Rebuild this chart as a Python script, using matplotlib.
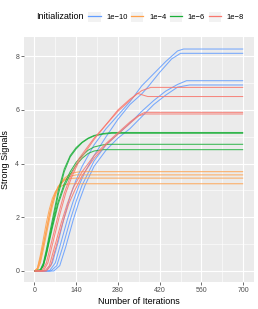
"""Strong signals vs. iterations for four initialization scales."""
import matplotlib

matplotlib.use("Agg")
import matplotlib.pyplot as plt
from matplotlib.legend_handler import HandlerTuple
from matplotlib.lines import Line2D
from matplotlib.patches import Patch

plt.rcParams["font.family"] = ["Liberation Sans", "DejaVu Sans"]

inits = ["1e\u221210", "1e\u22124", "1e\u22126", "1e\u22128"]
colors = ["#619CFF", "#FFA04A", "#1AAF38", "#F8766D"]

# 1e-10 runs
blue_iters = [
    [0, 40, 60, 80, 100, 120, 140, 160, 200, 240, 280, 320, 360, 400, 440, 480, 500, 700],
    [0, 50, 70, 90, 110, 130, 150, 170, 200, 240, 280, 320, 360, 380, 420, 460, 490, 700],
    [0, 55, 75, 95, 120, 140, 160, 200, 240, 280, 320, 360, 400, 440, 480, 510, 700],
    [0, 65, 85, 105, 130, 150, 170, 200, 240, 280, 320, 360, 400, 440, 480, 520, 700],
]
blue_signals = [
    [0, 0, 0.3, 1.1, 2.0, 2.8, 3.4, 3.9, 4.7, 5.3, 5.8, 6.3, 6.9, 7.35, 7.8, 8.2, 8.27, 8.27],
    [0, 0, 0.3, 1.1, 1.9, 2.6, 3.2, 3.7, 4.3, 5.0, 5.65, 6.2, 6.6, 6.85, 7.4, 7.9, 8.11, 8.11],
    [0, 0, 0.2, 0.9, 1.9, 2.6, 3.2, 4.1, 4.7, 5.1, 5.5, 5.95, 6.35, 6.7, 6.95, 7.09, 7.09],
    [0, 0, 0.2, 0.9, 1.9, 2.6, 3.2, 3.9, 4.5, 4.95, 5.3, 5.75, 6.2, 6.55, 6.85, 6.93, 6.93],
]

# 1e-4 runs
orange_iters = [
    [0, 10, 20, 30, 40, 50, 60, 70, 80, 100, 120, 140, 160, 700],
    [0, 10, 20, 30, 40, 50, 60, 70, 80, 100, 120, 140, 700],
    [0, 10, 20, 30, 40, 50, 60, 70, 80, 100, 120, 140, 700],
    [0, 10, 20, 30, 40, 50, 60, 70, 80, 100, 120, 700],
]
orange_signals = [
    [0, 0.1, 0.5, 1.0, 1.55, 2.1, 2.55, 2.9, 3.15, 3.45, 3.62, 3.68, 3.70, 3.70],
    [0, 0.03, 0.3, 0.8, 1.35, 1.9, 2.4, 2.8, 3.1, 3.4, 3.53, 3.58, 3.58],
    [0, 0.05, 0.4, 0.95, 1.5, 2.05, 2.55, 2.9, 3.15, 3.38, 3.45, 3.46, 3.46],
    [0, 0.1, 0.6, 1.2, 1.8, 2.3, 2.7, 2.95, 3.1, 3.22, 3.25, 3.25],
]

# 1e-6 runs
green_iters = [
    [0, 20, 30, 40, 60, 80, 100, 120, 140, 160, 180, 200, 230, 260, 700],
    [0, 20, 30, 40, 60, 80, 100, 120, 140, 160, 180, 200, 230, 260, 700],
    [0, 20, 30, 40, 60, 80, 100, 120, 140, 160, 180, 200, 230, 250, 700],
    [0, 20, 30, 40, 60, 80, 100, 120, 140, 160, 180, 200, 230, 700],
]
green_signals = [
    [0, 0.05, 0.3, 0.8, 1.9, 3.0, 3.8, 4.3, 4.6, 4.8, 4.95, 5.05, 5.12, 5.16, 5.16],
    [0, 0.02, 0.2, 0.65, 1.75, 2.85, 3.7, 4.25, 4.55, 4.78, 4.93, 5.03, 5.1, 5.13, 5.13],
    [0, 0.03, 0.25, 0.7, 1.7, 2.6, 3.25, 3.7, 4.05, 4.3, 4.5, 4.62, 4.7, 4.72, 4.72],
    [0, 0.02, 0.2, 0.6, 1.6, 2.5, 3.15, 3.6, 3.95, 4.2, 4.38, 4.47, 4.52, 4.52],
]

# 1e-8 runs
red_iters = [
    [0, 25, 40, 60, 80, 100, 120, 150, 200, 240, 280, 320, 360, 390, 700],
    [0, 30, 45, 65, 85, 105, 125, 150, 200, 240, 280, 320, 345, 365, 380, 700],
    [0, 35, 50, 70, 90, 110, 130, 160, 200, 240, 280, 320, 350, 370, 700],
    [0, 40, 55, 75, 95, 115, 135, 160, 200, 240, 280, 320, 350, 370, 700],
]
red_signals = [
    [0, 0, 0.3, 1.2, 2.1, 2.9, 3.5, 4.2, 4.95, 5.45, 6.0, 6.4, 6.72, 6.84, 6.84],
    [0, 0, 0.3, 1.2, 2.1, 2.9, 3.5, 4.1, 4.9, 5.45, 5.95, 6.35, 6.62, 6.55, 6.50, 6.50],
    [0, 0, 0.2, 1.0, 1.8, 2.5, 3.1, 3.7, 4.3, 4.75, 5.15, 5.55, 5.8, 5.91, 5.91],
    [0, 0, 0.2, 1.0, 1.8, 2.5, 3.0, 3.55, 4.2, 4.7, 5.1, 5.5, 5.78, 5.85, 5.85],
]

x_ticks = [0, 140, 280, 420, 560, 700]
y_ticks = [0, 2, 4, 6, 8]

fig = plt.figure(figsize=(2.58, 3.09), dpi=100)
ax = fig.add_axes([0.093, 0.087, 0.890, 0.793])
ax.set_facecolor("#EBEBEB")
for s in ax.spines.values():
    s.set_visible(False)

groups = [
    (blue_iters, blue_signals),
    (orange_iters, orange_signals),
    (green_iters, green_signals),
    (red_iters, red_signals),
]
for (iters, signals), color in zip(groups, colors):
    for xs, ys in zip(iters, signals):
        ax.plot(xs, ys, color=color, lw=0.75, alpha=0.85, solid_capstyle="butt")

ax.set_xlim(-35, 735)
ax.set_ylim(-0.415, 8.715)
ax.set_xticks(x_ticks)
ax.set_yticks(y_ticks)
ax.set_xticks([70, 210, 350, 490, 630], minor=True)
ax.set_yticks([1, 3, 5, 7], minor=True)
ax.grid(which="major", color="white", lw=0.8)
ax.grid(which="minor", color="white", lw=0.4)
ax.set_axisbelow(True)
ax.tick_params(which="major", length=2, width=0.5, color="#333333",
               labelsize=5, labelcolor="#4D4D4D", pad=1.5)
ax.tick_params(which="minor", length=0)

ax.set_xlabel("Number of Iterations", fontsize=6.5, labelpad=2)
ax.set_ylabel("Strong Signals", fontsize=6.5, labelpad=4)

handles = [
    (Patch(facecolor="#F2F2F2", edgecolor="none"), Line2D([], [], color=c, lw=0.9))
    for c in colors
]
fig.text(0.14, 0.945, "Initialization", fontsize=6.5, va="center", ha="left")
fig.legend(handles, inits, handler_map={tuple: HandlerTuple(ndivide=1)},
           loc="center left", bbox_to_anchor=(0.343, 0.945), ncol=4,
           frameon=False, fontsize=5.5, handlelength=1.6, handleheight=1.6,
           handletextpad=0.75, columnspacing=0.45, borderpad=0, borderaxespad=0)

fig.savefig("out.png", dpi=100)
